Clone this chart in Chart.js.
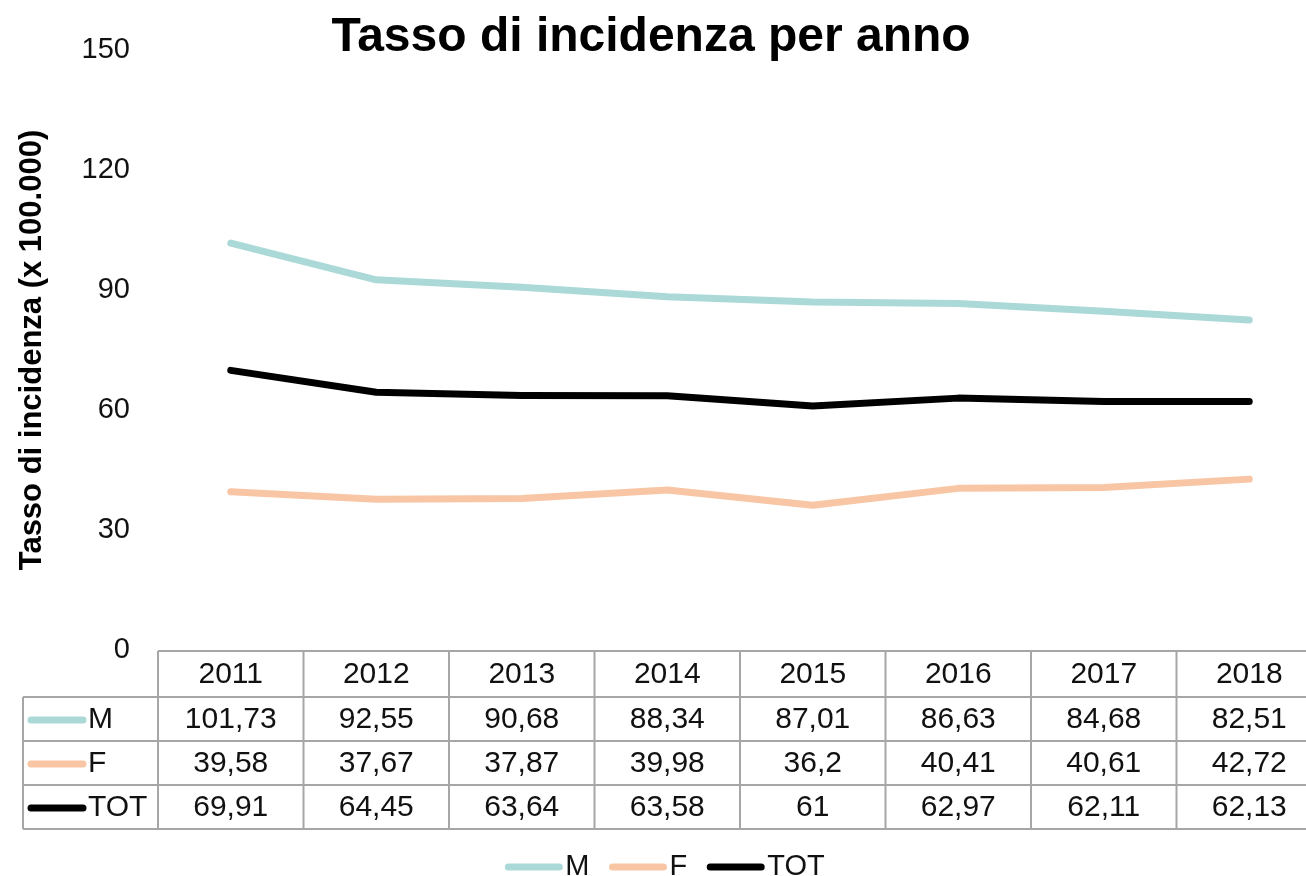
<!DOCTYPE html>
<html lang="it">
<head>
  <meta charset="UTF-8">
  <title>Tasso di incidenza per anno</title>
  <script src="https://cdn.jsdelivr.net/npm/chart.js"></script>
  <style>
    html, body { margin: 0; padding: 0; background: #fff; overflow: hidden; }
    #chart { display: block; }
  </style>
</head>
<body>
  <!-- the original picture is cut at the right edge, so the canvas is a bit wider than the window -->
  <canvas id="chart" width="1322" height="876"></canvas>

  <script>
    // Data
    const years = ["2011", "2012", "2013", "2014", "2015", "2016", "2017", "2018"];
    const maschi = [101.73, 92.55, 90.68, 88.34, 87.01, 86.63, 84.68, 82.51];
    const femmine = [39.58, 37.67, 37.87, 39.98, 36.2, 40.41, 40.61, 42.72];
    const totale = [69.91, 64.45, 63.64, 63.58, 61, 62.97, 62.11, 62.13];
    const yTicks = [0, 30, 60, 90, 120, 150];

    const FONT = "'Liberation Sans', Arial, sans-serif";
    const colM = '#abd9d8';
    const colF = '#f8c6a4';
    const colT = '#000000';

    const fmt = v => String(v).replace('.', ',');

    // title, data table and legend drawn around the plot area
    const tablePlugin = {
      id: 'dataTable',
      afterDraw(chart) {
        const ctx = chart.ctx;
        const area = chart.chartArea;
        const x = chart.scales.x;
        const dsets = chart.data.datasets;
        const colW = (area.right - area.left) / years.length;
        const top = area.bottom + 1;
        const headH = 46, rowH = 44;
        const labelLeft = 23;
        const bottom = top + headH + rowH * dsets.length;

        ctx.save();
        // title
        ctx.fillStyle = '#000';
        ctx.font = 'bold 48px ' + FONT;
        ctx.textAlign = 'center';
        ctx.textBaseline = 'middle';
        ctx.fillText('Tasso di incidenza per anno', 651, 38);

        ctx.strokeStyle = '#a6a6a6';
        ctx.lineWidth = 2;
        ctx.beginPath();
        ctx.moveTo(area.left, top); ctx.lineTo(area.right, top);
        for (let r = 0; r <= dsets.length; r++) {
          const yy = top + headH + r * rowH;
          ctx.moveTo(labelLeft, yy); ctx.lineTo(area.right, yy);
        }
        ctx.moveTo(labelLeft, top + headH); ctx.lineTo(labelLeft, bottom);
        for (let i = 0; i <= years.length; i++) {
          const xx = area.left + i * colW;
          ctx.moveTo(xx, top); ctx.lineTo(xx, bottom);
        }
        ctx.stroke();

        ctx.fillStyle = '#111';
        ctx.font = '30px ' + FONT;
        years.forEach((yr, i) => {
          ctx.fillText(yr, x.getPixelForValue(i), top + headH / 2 + 1);
        });
        dsets.forEach((ds, r) => {
          const cy = top + headH + r * rowH + rowH / 2 + 1;
          ds.data.forEach((v, i) => {
            ctx.textAlign = 'center';
            ctx.fillText(fmt(v), x.getPixelForValue(i), cy);
          });
          ctx.strokeStyle = ds.borderColor;
          ctx.lineWidth = 7;
          ctx.lineCap = 'round';
          ctx.beginPath();
          ctx.moveTo(31, cy); ctx.lineTo(83, cy);
          ctx.stroke();
          ctx.textAlign = 'left';
          ctx.fillText(ds.label, 88, cy);
        });

        // legend at the bottom
        ctx.font = '29px ' + FONT;
        const sw = 57, gap = 3, spacing = 20;
        const widths = dsets.map(ds => sw + gap + ctx.measureText(ds.label).width);
        const total = widths.reduce((a, b) => a + b, 0) + spacing * (dsets.length - 1);
        let lx = 665 - total / 2;
        const ly = 867;
        dsets.forEach((ds, i) => {
          ctx.strokeStyle = ds.borderColor;
          ctx.lineWidth = 7;
          ctx.lineCap = 'round';
          ctx.beginPath();
          ctx.moveTo(lx + 3, ly); ctx.lineTo(lx + sw - 3, ly);
          ctx.stroke();
          ctx.textAlign = 'left';
          ctx.fillText(ds.label, lx + sw + gap, ly);
          lx += widths[i] + spacing;
        });
        ctx.restore();
      }
    };

    const ctx = document.getElementById('chart').getContext('2d');
    new Chart(ctx, {
      type: 'line',
      data: {
        labels: years,
        datasets: [
          { label: 'M', data: maschi, borderColor: colM },
          { label: 'F', data: femmine, borderColor: colF },
          { label: 'TOT', data: totale, borderColor: colT }
        ]
      },
      options: {
        responsive: false,
        animation: false,
        layout: { padding: { left: 0, right: 0, top: 50, bottom: 0 } },
        elements: {
          line: { borderWidth: 7, tension: 0, borderCapStyle: 'round', borderJoinStyle: 'round', fill: false },
          point: { radius: 0, hoverRadius: 0 }
        },
        scales: {
          x: {
            offset: true,
            grid: { display: false },
            border: { display: false },
            ticks: { display: false },
            afterFit(s) { s.height = 226; }
          },
          y: {
            min: 0,
            max: 150,
            afterBuildTicks(s) { s.ticks = yTicks.map(v => ({ value: v })); },
            grid: { display: false },
            border: { display: false },
            ticks: { color: '#111', padding: 20, font: { size: 29, family: FONT } },
            title: {
              display: true,
              text: 'Tasso di incidenza (x 100.000)',
              color: '#000',
              font: { size: 31, weight: 'bold', family: FONT },
              padding: { top: 14, bottom: 0 }
            },
            afterFit(s) { s.width = 158; }
          }
        },
        plugins: {
          legend: { display: false },
          tooltip: { enabled: false },
          title: { display: false }
        }
      },
      plugins: [tablePlugin]
    });
  </script>
</body>
</html>
